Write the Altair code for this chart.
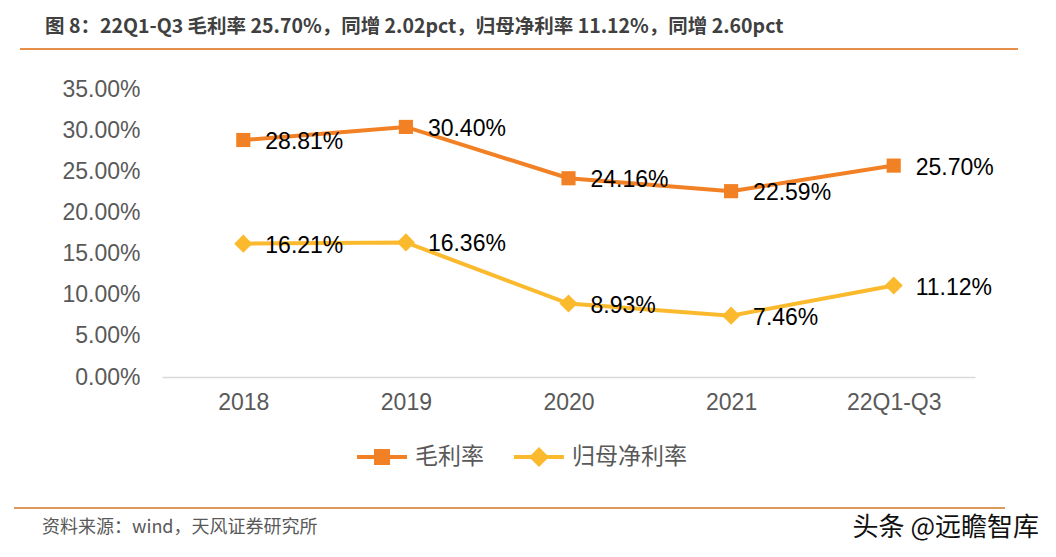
import altair as alt
import pandas as pd

years = ["2018", "2019", "2020", "2021", "22Q1-Q3"]
gross_margin = [0.2881, 0.3040, 0.2416, 0.2259, 0.2570]
net_margin = [0.1621, 0.1636, 0.0893, 0.0746, 0.1112]
series_names = ["毛利率", "归母净利率"]
series_colors = ["#F28024", "#FBBA2D"]
y_ticks = [0.0, 0.05, 0.10, 0.15, 0.20, 0.25, 0.30, 0.35]

TITLE = "图 8：22Q1-Q3 毛利率 25.70%，同增 2.02pct，归母净利率 11.12%，同增 2.60pct"
SOURCE = "资料来源：wind，天风证券研究所"
WATERMARK = "头条 @远瞻智库"

CJK = "Noto Sans CJK SC"
LATIN = "Liberation Sans"

rows = []
for name, vals in zip(series_names, [gross_margin, net_margin]):
    for y, v in zip(years, vals):
        rows.append({"year": y, "series": name, "value": v})
df = pd.DataFrame(rows)

x = alt.X("year:N", sort=years, title=None,
          axis=alt.Axis(labelAngle=0, labelFont=LATIN, labelFontSize=23, labelColor="#595959",
                        labelPadding=14, ticks=False, domainColor="#D9D9D9", domainWidth=1.5))
y = alt.Y("value:Q", title=None, scale=alt.Scale(domain=[0, 0.3501], nice=False),
          axis=alt.Axis(format=".2%", values=y_ticks, grid=False, domain=False,
                        ticks=False, labelFont=LATIN, labelFontSize=23, labelColor="#595959",
                        labelPadding=22))
color_scale = alt.Scale(domain=series_names, range=series_colors)

base = alt.Chart(df)
lines = base.mark_line(strokeWidth=4).encode(
    x=x, y=y, color=alt.Color("series:N", scale=color_scale, legend=None))
squares = base.transform_filter(alt.datum.series == series_names[0]).mark_point(
    shape="square", filled=True, size=200, opacity=1).encode(
    x=x, y=y, color=alt.Color("series:N", scale=color_scale, legend=None))
diamonds = base.transform_filter(alt.datum.series == series_names[1]).mark_point(
    shape="diamond", filled=True, size=330, opacity=1).encode(
    x=x, y=y, color=alt.Color("series:N", scale=color_scale, legend=None))
labels = base.mark_text(align="left", baseline="middle", dx=22, dy=2, font=LATIN,
                        fontSize=23, color="#000000").encode(
    x=x, y=y, text=alt.Text("value:Q", format=".2%"))

# legend symbol = short line with the marker on it
sq_path = "M-1,-0.08H1V0.08H-1Z M-0.32,-0.32H0.32V0.32H-0.32Z"
dm_path = "M-1,-0.08H1V0.08H-1Z M0,-0.4L0.4,0L0,0.4L-0.4,0Z"
legend_cfg = dict(title=None, orient="none", direction="horizontal",
                  legendX=195, legendY=343, symbolSize=2500, symbolOpacity=1,
                  symbolStrokeWidth=0, labelFont=CJK, labelFontSize=23,
                  labelColor="#595959", labelOffset=8, columnPadding=30)
legend_layer = base.mark_point(filled=True, opacity=0, size=10).encode(
    x=x, y=y,
    color=alt.Color("series:N", scale=alt.Scale(domain=series_names, range=series_colors),
                    legend=alt.Legend(**legend_cfg)),
    shape=alt.Shape("series:N", scale=alt.Scale(domain=series_names, range=[sq_path, dm_path]),
                    legend=alt.Legend(**legend_cfg)),
)

one = pd.DataFrame({"k": [0]})
deco = alt.Chart(one)
title = deco.mark_text(align="left", baseline="middle", font=CJK, fontSize=19.5, fontWeight="bold",
                       color="#404040", text=TITLE).encode(x=alt.value(-117), y=alt.value(-62))
top_rule = deco.mark_rule(color="#E8904A", strokeWidth=2).encode(
    x=alt.value(-142), x2=alt.value(856), y=alt.value(-40))
bottom_rule = deco.mark_rule(color="#D99A5B", strokeWidth=2).encode(
    x=alt.value(-148), x2=alt.value(843), y=alt.value(419))
source = deco.mark_text(align="left", baseline="middle", font=CJK, fontSize=18,
                        color="#595959", text=SOURCE).encode(x=alt.value(-120), y=alt.value(439))
mark_wm = deco.mark_text(align="right", baseline="middle", font=CJK, fontSize=26,
                         color="#111111", text=WATERMARK).encode(x=alt.value(877), y=alt.value(439))

chart = alt.layer(
    lines, squares, diamonds, labels, legend_layer,
    title, top_rule, bottom_rule, source, mark_wm,
).resolve_scale(color="independent", shape="independent").resolve_legend(
    color="independent", shape="independent"
).properties(
    width=813, height=288,
    autosize=alt.AutoSizeParams(type="none"),
    padding={"left": 154, "top": 81, "right": 73, "bottom": 172},
    background="white",
).configure_view(strokeWidth=0)

chart.save("out.html", embed_options={"renderer": "svg", "actions": False})
